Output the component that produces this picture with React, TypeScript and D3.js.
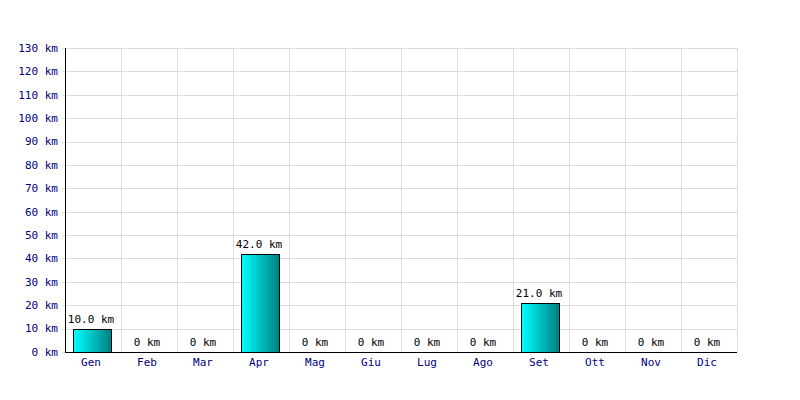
import React from "react";
import * as d3 from "d3";

const months = ["Gen","Feb","Mar","Apr","Mag","Giu","Lug","Ago","Set","Ott","Nov","Dic"];
const values = [10, 0, 0, 42, 0, 0, 0, 0, 21, 0, 0, 0];
const yTicks = [0,10,20,30,40,50,60,70,80,90,100,110,120,130];

export default function App() {
  const W = 800, H = 400;
  const m = { l: 65, r: 63, t: 48, b: 48 };
  const x = d3.scaleBand().domain(months).range([m.l, W - m.r]).paddingInner(0).paddingOuter(0);
  const y = d3.scaleLinear().domain([0, 130]).range([H - m.b, m.t]);
  const bw = 38;
  const font = "'DejaVu Sans Mono', monospace";
  return (
    <svg width={W} height={H} style={{ position: "absolute", left: 0, top: 0, background: "#fff" }} fontFamily={font} fontSize={11}>
      <defs>
        <linearGradient id="g" x1="0" x2="1" y1="0" y2="0">
          <stop offset="0" stopColor="#00ffff" />
          <stop offset="1" stopColor="#008080" />
        </linearGradient>
      </defs>
      {yTicks.map(t => (
        <g key={t}>
          <line x1={m.l - 3} x2={W - m.r} y1={Math.round(y(t)) + 0.5} y2={Math.round(y(t)) + 0.5} stroke="#dcdcdc" />
          <text x={m.l - 7} y={y(t)} dy="0.35em" textAnchor="end" fill="#000080">{t} km</text>
        </g>
      ))}
      {months.map((mo) => (
        <line key={mo} x1={Math.round((x(mo) as number) + x.bandwidth()) + 0.5} x2={Math.round((x(mo) as number) + x.bandwidth()) + 0.5} y1={m.t} y2={H - m.b} stroke="#dcdcdc" />
      ))}
      {months.map((mo, i) => {
        const cx = (x(mo) as number) + x.bandwidth() / 2 - 1;
        const v = values[i];
        const top = y(v);
        return (
          <g key={mo}>
            {v > 0 && (
              <rect x={Math.round(cx - bw / 2) + 0.5} y={Math.round(top) + 0.5} width={bw} height={Math.round(y(0)) - Math.round(top)} fill="url(#g)" stroke="#000" />
            )}
            <text x={cx - 1} y={top - 6} textAnchor="middle" fill="#000">{v > 0 ? v.toFixed(1) + " km" : "0 km"}</text>
            <text x={cx - 1} y={H - m.b + 14} textAnchor="middle" fill="#000080">{mo}</text>
          </g>
        );
      })}
      <line x1={m.l + 0.5} x2={m.l + 0.5} y1={m.t} y2={H - m.b} stroke="#000" />
      <line x1={m.l} x2={W - m.r} y1={H - m.b + 0.5} y2={H - m.b + 0.5} stroke="#000" />
    </svg>
  );
}
